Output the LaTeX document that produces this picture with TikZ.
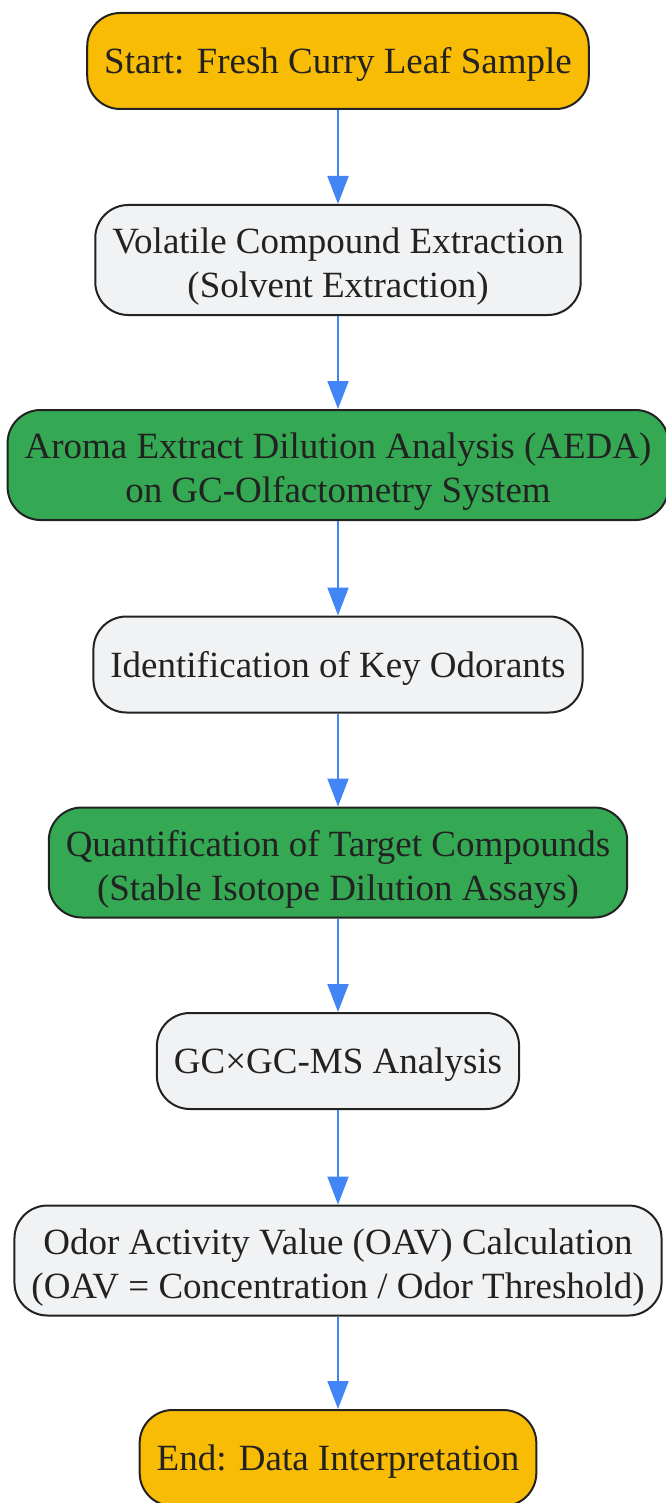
\documentclass[tikz,border=0pt]{standalone}
\usepackage{fontspec}
\setmainfont{Liberation Serif}
\usetikzlibrary{arrows.meta}

\definecolor{endorange}{HTML}{F9BC05}
\definecolor{assaygreen}{HTML}{34A853}
\definecolor{stepgray}{HTML}{F1F2F4}
\definecolor{flowblue}{HTML}{4285F4}
\definecolor{inkdark}{HTML}{222222}

\begin{document}
\begin{tikzpicture}[x = 1pt, y = -1pt, line width = 2pt,
    box/.style = {draw = inkdark, text = inkdark, rounded corners = 33pt,
        align = center, font = \fontsize{37}{44}\selectfont,
        inner xsep = 17pt, inner ysep = 4pt, minimum height = 96pt,
        text height = 25pt, text depth = 0pt},
    twoline/.style = {minimum height = 110pt, text height = 75pt},
    endpoint/.style = {box, fill = endorange},
    plainstep/.style = {box, fill = stepgray},
    assaystep/.style = {box, fill = assaygreen},
    flow/.style = {draw = flowblue, line width = 2pt,
        -{Triangle[width = 21pt, length = 28pt]}}]

        % Page size of the flow chart.
        \useasboundingbox (0, 0) rectangle (665, 1503);

        % Steps of the workflow, top to bottom.
        \node[endpoint] (start) at (338, 61) {Start: Fresh Curry Leaf Sample};
        \node[plainstep, twoline] (extract) at (338, 260)
            {Volatile Compound Extraction\\(Solvent Extraction)};
        \node[assaystep, twoline] (aeda) at (338, 465)
            {Aroma Extract Dilution Analysis (AEDA)\\on GC-Olfactometry System};
        \node[plainstep] (identify) at (338, 664.5) {Identification of Key Odorants};
        \node[assaystep, twoline] (quantify) at (338, 862.5)
            {Quantification of Target Compounds\\(Stable Isotope Dilution Assays)};
        \node[plainstep] (gcms) at (338, 1061) {GC×GC-MS Analysis};
        \node[plainstep, twoline] (oav) at (338, 1260.5)
            {Odor Activity Value (OAV) Calculation\\(OAV = Concentration / Odor Threshold)};
        \node[endpoint] (finish) at (338, 1458) {End: Data Interpretation};

        % Arrows between consecutive steps.
        \draw[flow] (start) -- (extract);
        \draw[flow] (extract) -- (aeda);
        \draw[flow] (aeda) -- (identify);
        \draw[flow] (identify) -- (quantify);
        \draw[flow] (quantify) -- (gcms);
        \draw[flow] (gcms) -- (oav);
        \draw[flow] (oav) -- (finish);
    \end{tikzpicture}
\end{document}
